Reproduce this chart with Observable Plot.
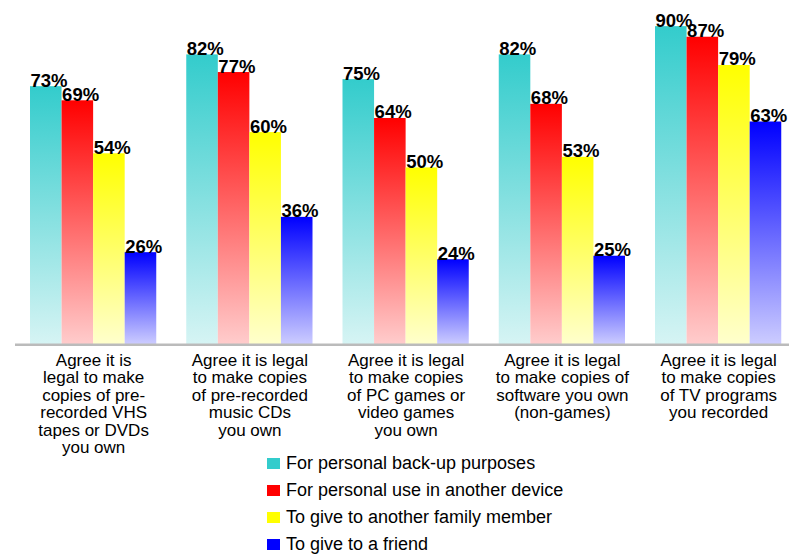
<!DOCTYPE html>
<html>
<head>
<meta charset="utf-8">
<script src="https://cdn.jsdelivr.net/npm/d3@7"></script>
<script src="https://cdn.jsdelivr.net/npm/@observablehq/plot@0.6"></script>
<style>
  html, body { margin: 0; padding: 0; background: #fff; }
  body { width: 789px; height: 555px; overflow: hidden; font-family: "Liberation Sans", Arial, sans-serif; }
  #legend { position: relative; margin-left: 267px; }
  .item { height: 27px; display: flex; align-items: center; font-size: 18px; color: #000; }
  .sw { width: 13px; height: 11px; margin-right: 6px; flex: none; }
</style>
</head>
<body>
<div id="chart"></div>
<div id="legend"></div>
<script>
const groups = ["VHS/DVD", "Music CDs", "PC/video games", "Software", "TV programs"];
const groupLabels = [
  "Agree it is\nlegal to make\ncopies of pre-\nrecorded VHS\ntapes or DVDs\nyou own",
  "Agree it is legal\nto make copies\nof pre-recorded\nmusic CDs\nyou own",
  "Agree it is legal\nto make copies\nof PC games or\nvideo games\nyou own",
  "Agree it is legal\nto make copies of\nsoftware you own\n(non-games)",
  "Agree it is legal\nto make copies\nof TV programs\nyou recorded"
];
const series = [
  "For personal back-up purposes",
  "For personal use in another device",
  "To give to another family member",
  "To give to a friend"
];
const backupValues = [73, 82, 75, 82, 90];
const deviceValues = [69, 77, 64, 68, 87];
const familyValues = [54, 60, 50, 53, 79];
const friendValues = [26, 36, 24, 25, 63];
const topColors = ["#33cccc", "#ff0000", "#ffff00", "#0000ff"];
const bottomColors = ["#d6f4f4", "#ffcccc", "#ffffcc", "#ccccff"];

const valueSets = [backupValues, deviceValues, familyValues, friendValues];
const data = [];
groups.forEach((g, gi) => {
  series.forEach((s, si) => {
    data.push({group: g, series: s, si, value: valueSets[si][gi]});
  });
});

const plot = Plot.plot({
  width: 789,
  height: 450,
  marginTop: 0,
  marginBottom: 106,
  marginLeft: 30,
  marginRight: 7.75,
  style: {fontFamily: "'Liberation Sans', Arial, sans-serif", fontSize: "17px", background: "white", color: "black", overflow: "visible"},
  fx: {domain: groups, paddingInner: 0.192, paddingOuter: 0, round: false, label: null},
  x: {domain: series, padding: 0, round: false, axis: null},
  y: {domain: [0, 97.4], axis: null},
  color: {type: "identity"},
  marks: [
    Plot.barY(data, {fx: "group", x: "series", y: "value", fill: d => `url(#grad${d.si})`}),
    Plot.text(data, {fx: "group", x: "series", y: "value", text: d => d.value + "%",
      textAnchor: "start", dx: -15.75, lineAnchor: "bottom", dy: 0,
      fontWeight: "bold", fontSize: 18.5, fill: "black"}),
    Plot.axisFx({anchor: "bottom", tickSize: 0, tickPadding: 9, label: null,
      tickFormat: g => groupLabels[groups.indexOf(g)], lineHeight: 1.03, fontSize: 17, fill: "black"})
  ]
});

// gradients
const svg = d3.select(plot);
const defs = svg.insert("defs", ":first-child");
topColors.forEach((c, i) => {
  const lg = defs.append("linearGradient").attr("id", "grad" + i)
    .attr("x1", 0).attr("y1", 0).attr("x2", 0).attr("y2", 1);
  lg.append("stop").attr("offset", "0%").attr("stop-color", c);
  lg.append("stop").attr("offset", "100%").attr("stop-color", bottomColors[i]);
});
// baseline across whole chart
const y0 = plot.scale("y").apply(0);
svg.append("line").attr("x1", 15).attr("x2", 789).attr("y1", y0 + 0.8).attr("y2", y0 + 0.8)
  .attr("stroke", "#bbbbbb").attr("stroke-width", 2.5);

document.getElementById("chart").appendChild(plot);

const legend = document.getElementById("legend");
series.forEach((s, i) => {
  const item = document.createElement("div");
  item.className = "item";
  const sw = document.createElement("span");
  sw.className = "sw";
  sw.style.background = topColors[i];
  const t = document.createElement("span");
  t.textContent = s;
  item.appendChild(sw);
  item.appendChild(t);
  legend.appendChild(item);
});
</script>
</body>
</html>
